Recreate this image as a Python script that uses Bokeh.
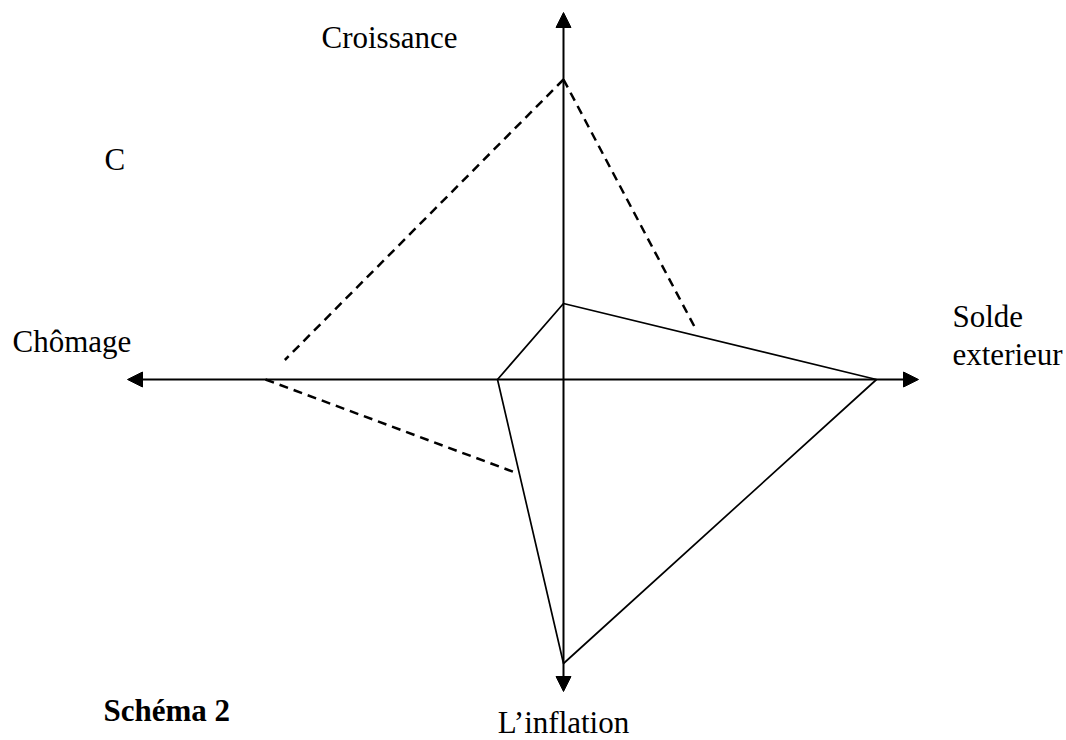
from bokeh.plotting import figure
from bokeh.models import Arrow, NormalHead, Range1d
from bokeh.core.properties import value
from bokeh.embed import file_html
from bokeh.resources import INLINE

# ---- data (axis units, origin at the crossing of the axes) ----
axes = ["Croissance", "Solde exterieur", "L’inflation", "Chômage"]
# direction of each axis: (dx, dy)
axis_dir_x = [0, 1, 0, -1]
axis_dir_y = [1, 0, -1, 0]
axis_extent = [367, 355, 312, 436]

# situation drawn with a solid line
solid_values = [76, 313, 284, 66]
# situation drawn with a dashed line
dashed_values = [300, 159, 111, 298]
# dashed edges: (from axis index, to axis index, share of the edge drawn)
dashed_from = [0, 0, 3]
dashed_to = [1, 3, 2]
dashed_share = [0.83, 0.935, 0.846]

labels = ["Croissance", "C", "Chômage", "Solde", "exterieur"]
label_x = [-242, -459, -551, 389, 389]
label_y = [342, 220, 38, 63, 25]

p = figure(width=1066, height=740, x_range=Range1d(-563, 503), y_range=Range1d(-361, 379),
           output_backend="svg", toolbar_location=None, min_border=0,
           x_axis_location=None, y_axis_location=None)
p.grid.visible = False
p.outline_line_color = None
p.background_fill_color = "white"
p.border_fill_color = "white"

# axes with arrow heads
for i in range(2):
    j = i + 2
    x0 = axis_dir_x[j] * axis_extent[j]
    y0 = axis_dir_y[j] * axis_extent[j]
    x1 = axis_dir_x[i] * axis_extent[i]
    y1 = axis_dir_y[i] * axis_extent[i]
    p.add_layout(Arrow(x_start=x0, y_start=y0, x_end=x1, y_end=y1, line_width=2, line_color="black",
                       start=NormalHead(size=15, fill_color="black", line_color="black", line_width=1),
                       end=NormalHead(size=15, fill_color="black", line_color="black", line_width=1)))

# solid polygon
sx = [axis_dir_x[k] * solid_values[k] for k in range(4)]
sy = [axis_dir_y[k] * solid_values[k] for k in range(4)]
p.line(sx + [sx[0]], sy + [sy[0]], line_color="black", line_width=1.7)

# dashed partial polygon
dx = [axis_dir_x[k] * dashed_values[k] for k in range(4)]
dy = [axis_dir_y[k] * dashed_values[k] for k in range(4)]
xs, ys = [], []
for a, b, t in zip(dashed_from, dashed_to, dashed_share):
    xs.append([dx[a], dx[a] + t * (dx[b] - dx[a])])
    ys.append([dy[a], dy[a] + t * (dy[b] - dy[a])])
p.multi_line(xs, ys, line_color="black", line_width=2.5, line_dash="9 6")

# labels
p.text(label_x, label_y, text=labels, text_font=value("Liberation Serif"), text_font_size="31px",
       text_baseline="alphabetic", text_align="left", text_color="black")
p.text([0], [-343], text=["L’inflation"], text_font=value("Liberation Serif"), text_font_size="31px",
       text_baseline="alphabetic", text_align="center", text_color="black")
p.text([-460], [-331], text=["Schéma 2"], text_font=value("Liberation Serif"), text_font_size="31px",
       text_font_style="bold", text_baseline="alphabetic", text_align="left", text_color="black")

open("out.html", "w").write(file_html(p, INLINE))
